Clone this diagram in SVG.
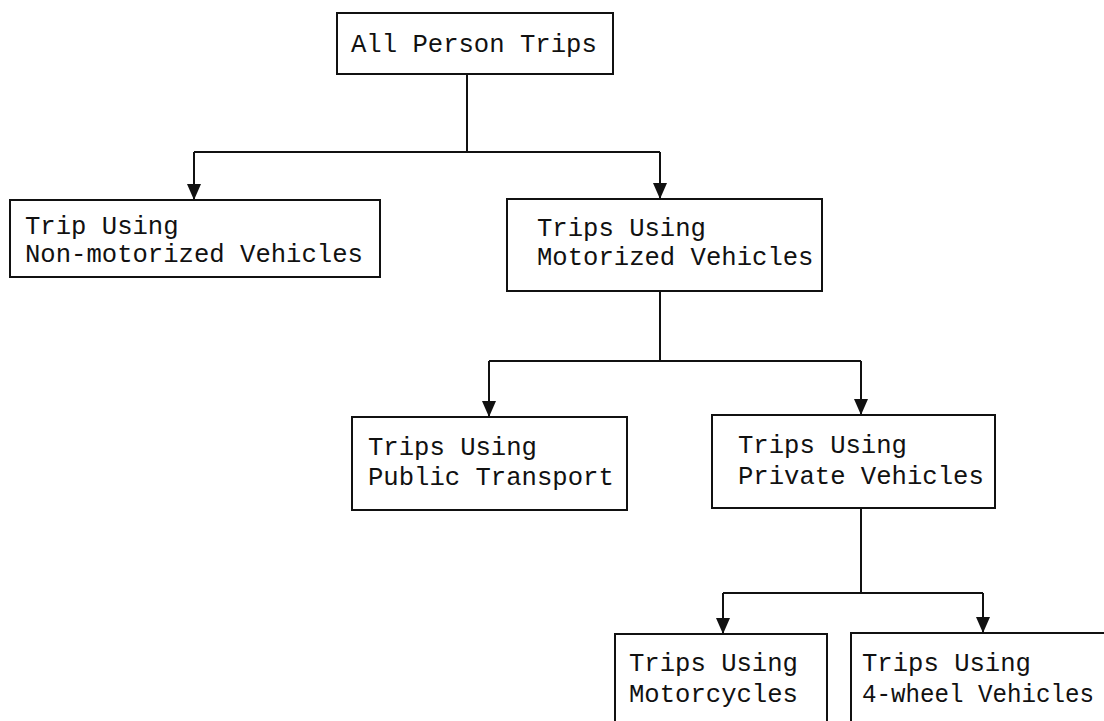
<svg xmlns="http://www.w3.org/2000/svg" width="1104" height="721" viewBox="0 0 1104 721">
<style>
.box{fill:#fff;stroke:#111;stroke-width:2}
.t{font-family:"Liberation Mono","DejaVu Sans Mono",monospace;font-size:25.6px;fill:#111}
.c{fill:none;stroke:#111;stroke-width:2}
</style>
<defs>
<marker id="ah" markerUnits="userSpaceOnUse" markerWidth="16" markerHeight="14" viewBox="0 0 16 14" refX="16" refY="7" orient="auto">
<path d="M0,0 L16,7 L0,14 Z" fill="#111"/>
</marker>
</defs>
<rect width="1104" height="721" fill="#fff"/>
<g id="connectors">
<path class="c" d="M467 74 V152"/>
<path class="c" d="M194 152 H660"/>
<path class="c" d="M194 152 V200" marker-end="url(#ah)"/>
<path class="c" d="M660 152 V199" marker-end="url(#ah)"/>
<path class="c" d="M660 291 V361"/>
<path class="c" d="M489 361 H861"/>
<path class="c" d="M489 361 V417" marker-end="url(#ah)"/>
<path class="c" d="M861 361 V415" marker-end="url(#ah)"/>
<path class="c" d="M861 508 V593"/>
<path class="c" d="M723 593 H983"/>
<path class="c" d="M723 593 V634" marker-end="url(#ah)"/>
<path class="c" d="M983 593 V633" marker-end="url(#ah)"/>
</g>
<g id="all-person-trips">
<rect class="box" x="337" y="13" width="276" height="61"/>
<text class="t" x="351" y="52">All Person Trips</text>
</g>
<g id="non-motorized">
<rect class="box" x="10" y="200" width="370" height="77"/>
<text class="t" x="25" y="234">Trip Using</text>
<text class="t" x="25" y="262">Non-motorized Vehicles</text>
</g>
<g id="motorized">
<rect class="box" x="507" y="199" width="315" height="92"/>
<text class="t" x="537" y="236">Trips Using</text>
<text class="t" x="537" y="265">Motorized Vehicles</text>
</g>
<g id="public-transport">
<rect class="box" x="352" y="417" width="275" height="93"/>
<text class="t" x="368" y="455">Trips Using</text>
<text class="t" x="368" y="485">Public Transport</text>
</g>
<g id="private-vehicles">
<rect class="box" x="712" y="415" width="283" height="93"/>
<text class="t" x="738" y="453">Trips Using</text>
<text class="t" x="738" y="484">Private Vehicles</text>
</g>
<g id="motorcycles">
<rect class="box" x="615" y="634" width="212" height="110"/>
<text class="t" x="629" y="671">Trips Using</text>
<text class="t" x="629" y="702">Motorcycles</text>
</g>
<g id="four-wheel">
<rect class="box" x="851" y="633" width="270" height="110"/>
<text class="t" x="862" y="671">Trips Using</text>
<text class="t" x="862" y="702" textLength="232" lengthAdjust="spacingAndGlyphs">4-wheel Vehicles</text>
</g>
</svg>
